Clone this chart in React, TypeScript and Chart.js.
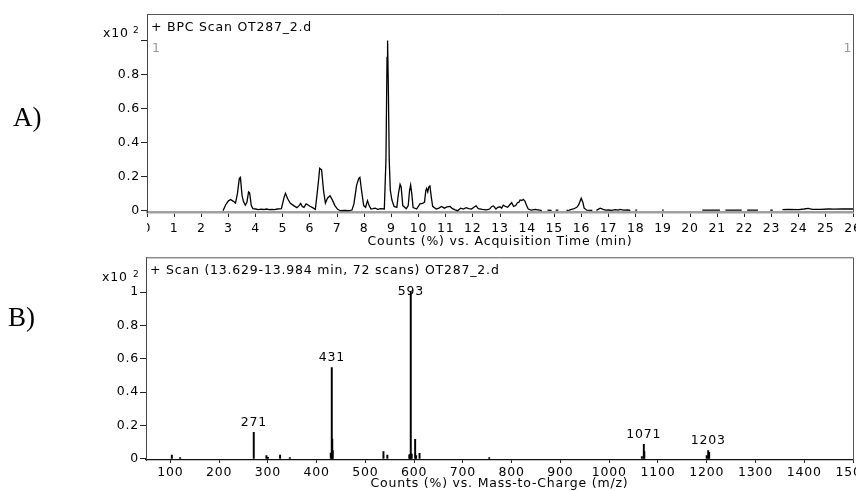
import React, { useEffect, useRef } from "react";
import { Chart, registerables } from "chart.js";
Chart.register(...registerables);

// ---------- Panel A: base peak chromatogram (BPC) ----------
const bpcTime: number[] = [
  2.8, 2.9, 3.0, 3.08, 3.18, 3.26, 3.33, 3.4, 3.44, 3.5, 3.55, 3.62, 3.68, 3.74, 3.78, 3.84, 3.9,
  4.0, 4.1, 4.2, 4.3, 4.4, 4.5, 4.6, 4.7, 4.8, 4.95, 5.05, 5.1, 5.18, 5.28, 5.4, 5.52, 5.6, 5.66,
  5.72, 5.78, 5.86, 5.92, 6.0, 6.1, 6.2, 6.3, 6.36, 6.43, 6.5, 6.57, 6.65, 6.74, 6.82, 6.92, 7.02,
  7.12, 7.3, 7.45, 7.55, 7.62, 7.72, 7.8, 7.84, 7.9, 7.98, 8.05, 8.12, 8.18, 8.25, 8.32, 8.4, 8.5,
  8.6, 8.74, 8.8, 8.84, 8.86, 8.89, 8.92, 8.96, 9.02, 9.1, 9.2, 9.26, 9.32, 9.36, 9.42, 9.55, 9.62,
  9.67, 9.71, 9.75, 9.8, 9.93, 10.05, 10.15, 10.22, 10.27, 10.3, 10.34, 10.38, 10.42, 10.47, 10.52,
  10.65, 10.75, 10.85, 10.95, 11.05, 11.16, 11.25, 11.35, 11.44, 11.55, 11.65, 11.75, 11.85, 11.95,
  12.05, 12.12, 12.2, 12.35, 12.5, 12.62, 12.7, 12.76, 12.85, 12.92, 13.0, 13.06, 13.12, 13.2,
  13.28, 13.36, 13.43, 13.5, 13.58, 13.64, 13.7, 13.74, 13.8, 13.86, 13.92, 13.98, 14.04, 14.15,
  14.3, 14.45, 14.54, 14.62, 14.75, 14.9, 14.95, 15.05, 15.15, 15.3, 15.45, 15.55, 15.7, 15.83,
  15.9, 15.99, 16.05, 16.1, 16.2, 16.4, 16.5, 16.55, 16.69, 16.8, 16.9, 17.0, 17.1, 17.25, 17.35,
  17.42, 17.55, 17.7, 17.8, 17.9, 17.98, 18.05, 18.1, 18.97, 19.03, 19.1, 20.45, 20.7, 20.9, 21.1,
  21.2, 21.3, 21.6, 21.9, 22.0, 22.1, 22.5, 22.6, 22.95, 23.05, 23.2, 23.4, 23.6, 24.0, 24.2, 24.35,
  24.5, 24.8, 25.1, 25.3, 25.6, 25.9, 26.0,
];
const bpcIntensity: (number | null)[] = [
  0, 0.035, 0.058, 0.066, 0.055, 0.045, 0.1, 0.19, 0.196, 0.09, 0.055, 0.033, 0.05, 0.11, 0.105, 0.03, 0.012,
  0.01, 0.006, 0.009, 0.007, 0.01, 0.006, 0.008, 0.006, 0.01, 0.012, 0.08, 0.102, 0.07, 0.043, 0.03, 0.018, 0.03, 0.043,
  0.025, 0.02, 0.04, 0.035, 0.026, 0.018, 0.008, 0.15, 0.249, 0.24, 0.12, 0.045, 0.075, 0.088, 0.065, 0.03, 0.008,
  0, 0.002, 0, 0.004, 0.04, 0.15, 0.19, 0.196, 0.12, 0.03, 0.02, 0.059, 0.03, 0.01, 0.012, 0.015, 0.008,
  0.012, 0.01, 0.3, 0.9, 1.0, 0.7, 0.3, 0.12, 0.063, 0.025, 0.02, 0.1, 0.155, 0.14, 0.03, 0.012, 0.03,
  0.12, 0.151, 0.1, 0.018, 0.01, 0.04, 0.043, 0.05, 0.12, 0.131, 0.11, 0.14, 0.145, 0.08, 0.026,
  0.01, 0.015, 0.025, 0.015, 0.022, 0.025, 0.012, 0.005, 0, 0.015, 0.01, 0.018, 0.012, 0.01,
  0.022, 0.028, 0.012, 0.008, 0.005, 0.01, 0.025, 0.028, 0.01, 0.02, 0.023, 0.015, 0.033, 0.025,
  0.02, 0.035, 0.047, 0.025, 0.03, 0.047, 0.05, 0.063, 0.06, 0.067, 0.055, 0.03, 0.01, 0.004,
  0.008, 0.003, 0, null, 0.003, 0.002, null, 0.004, 0.003, null, 0.002, 0.004, 0.01, 0.02,
  0.035, 0.073, 0.05, 0.015, 0.003, 0.002, null, 0.002, 0.015, 0.008, 0.003, 0.004, 0.002, 0.006, 0.004,
  0.008, 0.003, 0.004, 0.002, null, 0.003, 0.003, null, 0.003, 0.003, null, 0.003, 0.004, 0.003, 0.004,
  null, 0.003, 0.004, 0.003, null, 0.003, 0.004, null, 0.003, 0.003, null, 0.006, 0.008, 0.006, 0.01, 0.014,
  0.008, 0.008, 0.01, 0.009, 0.01, 0.011, 0.01,
];
const timeTicks = [0, 1, 2, 3, 4, 5, 6, 7, 8, 9, 10, 11, 12, 13, 14, 15, 16, 17, 18, 19, 20, 21, 22, 23, 24, 25, 26];
const intensityTicks = [0, 0.2, 0.4, 0.6, 0.8, 1];

// ---------- Panel B: mass spectrum ----------
const mzValues = [103, 120, 271, 297, 300, 325, 345, 429, 431, 432, 433, 537, 545, 590, 592, 593, 595, 602, 604, 611, 754, 1067, 1071, 1072, 1200, 1203, 1205];
const mzAbundance = [0.024, 0.008, 0.16, 0.02, 0.01, 0.024, 0.008, 0.035, 0.547, 0.12, 0.05, 0.044, 0.024, 0.025, 0.03, 1.0, 0.03, 0.118, 0.02, 0.034, 0.008, 0.015, 0.088, 0.044, 0.02, 0.05, 0.04];
const mzTicks = [100, 200, 300, 400, 500, 600, 700, 800, 900, 1000, 1100, 1200, 1300, 1400, 1500];
const annotatedMz = [271, 431, 593, 1071, 1203];

const FONT = "'DejaVu Sans', 'Liberation Sans', Arial, sans-serif";
const FS = 12.5;
const LS = "0.8px";

const spacingPlugin = {
  id: "spacing",
  beforeUpdate(chart: any) { (chart.ctx as any).letterSpacing = LS; },
  beforeLayout(chart: any) { (chart.ctx as any).letterSpacing = LS; },
  beforeDraw(chart: any) { (chart.ctx as any).letterSpacing = LS; },
};

const framePlugin = {
  id: "frame",
  afterDraw(chart: any) {
    const { ctx, chartArea: a } = chart;
    ctx.save();
    ctx.strokeStyle = "#555";
    ctx.lineWidth = 1;
    ctx.beginPath();
    ctx.moveTo(a.left, a.top + 0.5);
    ctx.lineTo(a.right + 0.5, a.top + 0.5);
    ctx.lineTo(a.right + 0.5, a.bottom);
    ctx.stroke();
    ctx.restore();
  },
};

const clipLeftTickPlugin = {
  id: "clipLeftTick",
  afterDraw(chart: any) {
    const { ctx, chartArea: a } = chart;
    ctx.clearRect(0, a.bottom + 5, a.left - 0.5, 20);
  },
};

const peakLabelPlugin = {
  id: "peakLabels",
  afterDatasetsDraw(chart: any) {
    const { ctx, chartArea: a } = chart;
    const xs = chart.scales.x;
    const ys = chart.scales.y;
    ctx.save();
    ctx.font = `${FS}px ${FONT}`;
    ctx.fillStyle = "#000";
    ctx.textAlign = "center";
    ctx.textBaseline = "middle";
    annotatedMz.forEach((mz) => {
      const i = mzValues.indexOf(mz);
      const px = xs.getPixelForValue(mz);
      const py = Math.max(ys.getPixelForValue(mzAbundance[i]) - 10, a.top + 34);
      ctx.fillText(String(mz), px, py);
    });
    ctx.restore();
  },
};

function yTickLabel(v: number, hideTop: boolean) {
  if (v === 0) return "0";
  if (Math.abs(v - 1) < 1e-9) return hideTop ? "" : "1";
  return v.toFixed(1);
}

function fitX(h: number) {
  return (s: any) => {
    s.height = h;
    s.paddingLeft = 0;
    s.paddingRight = 0;
  };
}
function fitY(w: number) {
  return (s: any) => {
    s.width = w;
    s.paddingTop = 0;
    s.paddingBottom = 0;
  };
}

export default function App() {
  const refA = useRef<HTMLCanvasElement>(null);
  const refB = useRef<HTMLCanvasElement>(null);

  useEffect(() => {
    const tickFont = { family: FONT, size: FS, lineHeight: 1 };
    const chartA = new Chart(refA.current as HTMLCanvasElement, {
      type: "line",
      data: {
        datasets: [
          {
            data: bpcTime.map((t, i) => ({ x: t, y: bpcIntensity[i] })) as any,
            borderColor: "#000",
            borderWidth: 1.3,
            pointRadius: 0,
            tension: 0,
            spanGaps: false,
          },
        ],
      },
      options: {
        animation: false,
        responsive: false,
        layout: { padding: { top: 14, right: 3, left: 0, bottom: 0 }, autoPadding: false },
        plugins: { legend: { display: false }, tooltip: { enabled: false } },
        scales: {
          x: {
            type: "linear",
            min: 0,
            max: 26,
            afterBuildTicks: (s: any) => { s.ticks = timeTicks.map((v) => ({ value: v })); },
            afterFit: fitX(38),
            grid: { drawOnChartArea: false, drawTicks: true, tickLength: 5, color: "#222" },
            border: { color: "#a0a0a0", width: 2.5 },
            ticks: { color: "#000", font: tickFont, padding: 5, maxRotation: 0, autoSkip: false, callback: (v: any) => String(v) },
            title: { display: true, text: "Counts (%) vs. Acquisition Time (min)", color: "#000", font: { family: FONT, size: FS, lineHeight: 1.2 }, padding: { top: 0, bottom: 1 } },
          },
          y: {
            type: "linear",
            min: -0.0076,
            max: 1.1557,
            afterBuildTicks: (s: any) => { s.ticks = intensityTicks.map((v) => ({ value: v })); },
            afterFit: fitY(147),
            grid: { drawOnChartArea: false, drawTicks: true, tickLength: 6, color: "#222" },
            border: { color: "#444", width: 1 },
            ticks: { color: "#000", font: tickFont, padding: 1, callback: (v: any) => yTickLabel(Number(v), true) },
          },
        },
      },
      plugins: [spacingPlugin, framePlugin, clipLeftTickPlugin],
    } as any);

    const chartB = new Chart(refB.current as HTMLCanvasElement, {
      type: "bar",
      data: {
        datasets: [
          {
            data: mzValues.map((m, i) => ({ x: m, y: mzAbundance[i] })) as any,
            backgroundColor: "#000",
            borderWidth: 0,
            barThickness: 1.3,
          },
        ],
      },
      options: {
        animation: false,
        responsive: false,
        layout: { padding: { top: 7.3, right: 3, left: 0, bottom: 0 }, autoPadding: false },
        plugins: { legend: { display: false }, tooltip: { enabled: false } },
        scales: {
          x: {
            type: "linear",
            min: 50,
            max: 1500,
            offset: false,
            afterBuildTicks: (s: any) => { s.ticks = mzTicks.map((v) => ({ value: v })); },
            afterFit: fitX(31),
            grid: { drawOnChartArea: false, drawTicks: true, tickLength: 3, color: "#222", offset: false },
            border: { color: "#111", width: 1.2 },
            ticks: { color: "#000", font: tickFont, padding: 3, maxRotation: 0, autoSkip: false, callback: (v: any) => String(v) },
            title: { display: true, text: "Counts (%) vs. Mass-to-Charge (m/z)", color: "#000", font: { family: FONT, size: FS, lineHeight: 1.2 }, padding: { top: 0, bottom: 0 } },
          },
          y: {
            type: "linear",
            min: -0.006,
            max: 1.208,
            afterBuildTicks: (s: any) => { s.ticks = intensityTicks.map((v) => ({ value: v })); },
            afterFit: fitY(146),
            grid: { drawOnChartArea: false, drawTicks: true, tickLength: 6, color: "#222" },
            border: { color: "#444", width: 1 },
            ticks: { color: "#000", font: tickFont, padding: 1, callback: (v: any) => yTickLabel(Number(v), false) },
          },
        },
      },
      plugins: [spacingPlugin, framePlugin, peakLabelPlugin],
    } as any);

    return () => {
      chartA.destroy();
      chartB.destroy();
    };
  }, []);

  const txt = (left: number, cy: number, text: string, extra: React.CSSProperties = {}) => (
    <div
      style={{
        position: "absolute",
        left,
        top: cy,
        transform: "translateY(-50%)",
        fontFamily: FONT,
        fontSize: FS,
        lineHeight: 1,
        letterSpacing: LS,
        whiteSpace: "nowrap",
        color: "#000",
        ...extra,
      }}
    >
      {text}
    </div>
  );

  const serif = { fontFamily: "'Liberation Serif', 'Times New Roman', serif", fontSize: 27, letterSpacing: "0px" };

  return (
    <div style={{ position: "absolute", left: 0, top: 0, width: 856, height: 491, overflow: "hidden", background: "#fff" }}>
      <canvas ref={refA} width={856} height={250} style={{ position: "absolute", left: 0, top: 0 }} />
      <canvas ref={refB} width={856} height={241} style={{ position: "absolute", left: 0, top: 250 }} />
      {txt(13, 117, "A)", serif)}
      {txt(8, 317, "B)", serif)}
      {txt(103, 32.5, "x10")}
      {txt(133, 30, "2", { fontSize: 9 })}
      {txt(151, 26.7, "+ BPC Scan OT287_2.d")}
      {txt(152, 48, "1", { color: "#999" })}
      {txt(843.5, 48, "1", { color: "#999" })}
      {txt(102, 277, "x10")}
      {txt(133, 273.7, "2", { fontSize: 9 })}
      {txt(150, 270, "+ Scan (13.629-13.984 min, 72 scans) OT287_2.d")}
    </div>
  );
}
